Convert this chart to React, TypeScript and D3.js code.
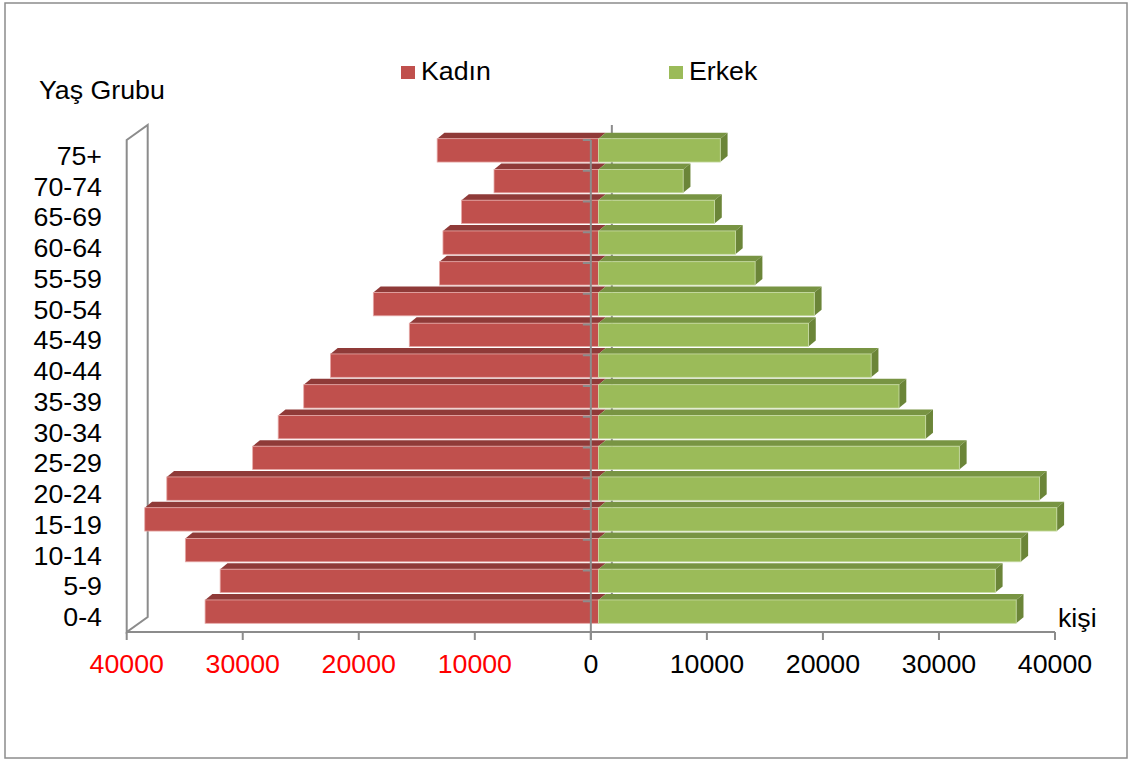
import React from "react";
import * as d3 from "d3";

const categories = ["0-4", "5-9", "10-14", "15-19", "20-24", "25-29", "30-34", "35-39", "40-44", "45-49", "50-54", "55-59", "60-64", "65-69", "70-74", "75+"];
const kadin = [33900, 32600, 35600, 39100, 37200, 29800, 27600, 25400, 23100, 16300, 19400, 13700, 13400, 11800, 9000, 13900];
const erkek = [36000, 34200, 36400, 39500, 38000, 31100, 28200, 25900, 23500, 18100, 18600, 13500, 11800, 10000, 7300, 10500];
const xTicks = [-40000, -30000, -20000, -10000, 0, 10000, 20000, 30000, 40000];
const seriesNames = ["Kadın", "Erkek"];

const W = 1130, H = 765;
const FONT = "'Liberation Sans', Arial, sans-serif";
const FS = 25;
const SX = 1.07;
const AXIS = "#8c8c8c";
const RED = { front: "#C0504D", top: "#8f3a38" };
const GREEN = { front: "#9BBB59", top: "#789443", side: "#6b8538" };

function T({ x, y, anchor = "start", fill = "#000", children }: { x: number; y: number; anchor?: string; fill?: string; children: any }) {
  return (
    <text transform={`translate(${x},${y}) scale(${SX},1)`} textAnchor={anchor} fontSize={FS} fill={fill}>
      {children}
    </text>
  );
}

export default function App() {
  const x = d3.scaleLinear().domain([-40000, 40000]).range([126.7, 1055]);
  const y = d3.scaleBand<string>().domain([...categories].reverse()).range([140, 632]).paddingInner(0.24).paddingOuter(0.12);
  const step = y.step();
  const bw = y.bandwidth();
  const x0 = x(0);
  const yTop = 140, yBot = 632;
  const wdx = 21, wdy = -15;
  const fdx = 7.6, fdy = -5;
  const ddx = 7.3, ddy = -6;

  const pts = (arr: number[][]) => arr.map((p) => p.join(",")).join(" ");

  const bars = categories.map((c, i) => {
    const yc = (y(c) as number) + bw / 2 + fdy;
    const yt = yc - bw / 2, yb = yc + bw / 2;
    const zx = x0 + fdx;
    const lx = x(-kadin[i]) + fdx;
    const rx = x(erkek[i]) + fdx;
    return (
      <g key={c}>
        <polygon points={pts([[lx, yt], [zx, yt], [zx + ddx, yt + ddy], [lx + ddx, yt + ddy]])} fill={RED.top} />
        <rect x={lx} y={yt} width={zx - lx} height={bw} fill={RED.front} stroke="#e6a9a7" strokeWidth={0.8} />
        <polygon points={pts([[zx, yt], [rx, yt], [rx + ddx, yt + ddy], [zx + ddx, yt + ddy]])} fill={GREEN.top} />
        <polygon points={pts([[rx, yt], [rx + ddx, yt + ddy], [rx + ddx, yb + ddy], [rx, yb]])} fill={GREEN.side} />
        <rect x={zx} y={yt} width={rx - zx} height={bw} fill={GREEN.front} stroke="#c9dca6" strokeWidth={0.8} />
      </g>
    );
  });

  const boundaries = d3.range(categories.length + 1).map((k) => yTop + k * step);

  return (
    <svg width={W} height={H} style={{ position: "absolute", left: 0, top: 0 }} fontFamily={FONT}>
      <rect x={0} y={0} width={W} height={H} fill="#fff" />
      <rect x={5} y={3} width={1122} height={755} fill="none" stroke="#8c8c8c" strokeWidth={1.5} />

      <polygon
        points={pts([[x(-40000), yTop], [x(-40000) + wdx, yTop + wdy], [x(-40000) + wdx, yBot + wdy], [x(-40000), yBot]])}
        fill="none" stroke={AXIS} strokeWidth={2} />

      <line x1={x0 + wdx} x2={x0 + wdx} y1={yTop + wdy} y2={yBot + wdy} stroke={AXIS} strokeWidth={2} />

      {bars}

      <line x1={x0} x2={x0} y1={yTop} y2={yBot + 8} stroke={AXIS} strokeWidth={2} />
      {boundaries.map((b, k) => (
        <line key={k} x1={x0 - 8} x2={x0} y1={b} y2={b} stroke={AXIS} strokeWidth={2} />
      ))}

      <line x1={x(-40000)} x2={x(40000)} y1={yBot} y2={yBot} stroke={AXIS} strokeWidth={2} />
      {xTicks.map((t) => (
        <g key={t}>
          <line x1={x(t)} x2={x(t)} y1={yBot} y2={yBot + 8} stroke={AXIS} strokeWidth={2} />
          <T x={x(t)} y={673} anchor="middle" fill={t < 0 ? "#FF0000" : "#000"}>{Math.abs(t)}</T>
        </g>
      ))}

      {categories.map((c) => (
        <T key={c} x={102} y={(y(c) as number) + bw / 2 + 9.5} anchor="end">{c}</T>
      ))}

      <T x={39} y={99}>Yaş Grubu</T>
      <T x={1058} y={627}>kişi</T>

      <rect x={401} y={66} width={14} height={13} fill={RED.front} />
      <T x={421} y={80}>{seriesNames[0]}</T>
      <rect x={669} y={66} width={14} height={13} fill={GREEN.front} />
      <T x={689} y={80}>{seriesNames[1]}</T>
    </svg>
  );
}
